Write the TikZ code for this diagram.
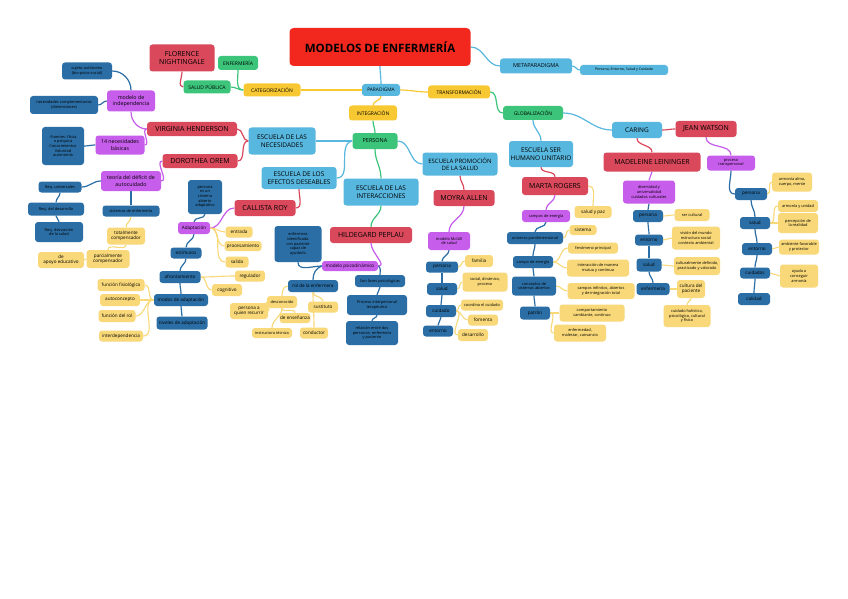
\documentclass[tikz,border=0pt]{standalone}
\usepackage{fontspec}
\setmainfont{Open Sans}
\definecolor{ttlred}{HTML}{F2281E}
\definecolor{thred}{HTML}{D9495B}
\definecolor{sky}{HTML}{58B7DF}
\definecolor{yel}{HTML}{F8C832}
\definecolor{lyel}{HTML}{F8D878}
\definecolor{grn}{HTML}{3CC57A}
\definecolor{purp}{HTML}{C65DEB}
\definecolor{dblue}{HTML}{2B6EA5}
\pgfdeclarelayer{bg}
\pgfsetlayers{bg,main}
\newcommand\nd[7]{\node[#6,minimum width=#4pt,minimum height=#5pt] (#1) at (#2,#3) {#7};}
\newcommand\ed[4]{\draw[#1] (#2) to[#4] (#3);}
\tikzset{
  base/.style={rounded corners=3pt, align=center, inner sep=0.5pt, text=black},
  fA/.style={font=\fontsize{11.5}{13}\selectfont\bfseries},
  fB/.style={font=\fontsize{7}{8.4}\selectfont},
  fC/.style={font=\fontsize{6.5}{7.8}\selectfont},
  fD/.style={font=\fontsize{5}{6}\selectfont},
  fE/.style={font=\fontsize{5.3}{6.2}\selectfont},
  fF/.style={font=\fontsize{4.6}{5.4}\selectfont},
  fG/.style={font=\fontsize{3.9}{4.6}\selectfont},
  ttl/.style={base,fill=ttlred,fA,rounded corners=4pt},
  th/.style={base,fill=thred,fB},
  sk/.style={base,fill=sky,fC},
  skd/.style={base,fill=sky,fD},
  yl/.style={base,fill=yel,fD},
  gr/.style={base,fill=grn,fD},
  pu/.style={base,fill=purp,fE},
  db/.style={base,fill=dblue,fF},
  ly/.style={base,fill=lyel,fF},
  cS/.style={draw=sky,line width=1.2pt},
  cY/.style={draw=yel,line width=1.2pt},
  cG/.style={draw=grn,line width=1.2pt},
  cR/.style={draw=thred,line width=1.2pt},
  cP/.style={draw=purp,line width=1.2pt},
  cB/.style={draw=dblue,line width=1.2pt},
  cL/.style={draw=lyel,line width=1.1pt},
  h/.style={out=0,in=180},
  hl/.style={out=180,in=0},
  v/.style={out=-90,in=90},
}
\begin{document}
\begin{tikzpicture}[x=1pt,y=-1pt]
\useasboundingbox (0,0) rectangle (848,599);
% ---- top
\nd{title}{380}{47}{181}{38}{ttl}{MODELOS DE ENFERMERÍA}
\nd{meta}{536}{66}{72}{15}{skd,font=\fontsize{5.5}{6.5}\selectfont}{METAPARADIGMA}
\nd{metaleaf}{624}{70}{88}{10}{base,fill=sky,font=\fontsize{3.6}{4.3}\selectfont}{Persona, Entorno, Salud y Cuidado}
\nd{para}{381}{90}{38}{12}{skd,font=\fontsize{4.8}{5.6}\selectfont}{PARADIGMA}
\nd{cat}{272}{90}{57}{13}{yl}{CATEGORIZACIÓN}
\nd{enf}{238}{63}{40}{14}{gr}{ENFERMERÍA}
\nd{sp}{207}{87}{47}{13}{gr}{SALUD PÚBLICA}
\nd{flor}{182}{58}{65}{27}{th}{FLORENCE\\NIGHTINGALE}
\nd{integ}{373}{113}{48}{15}{yl}{INTEGRACIÓN}
\nd{trans}{459}{92}{62}{13}{yl}{TRANSFORMACIÓN}
\nd{glob}{533}{113}{60}{14}{gr}{GLOBALIZACIÓN}
\nd{pers}{375}{141}{45}{16}{gr,font=\fontsize{5.5}{6.5}\selectfont}{PERSONA}
% ---- Henderson / Orem
\nd{escnec}{282}{141}{67}{27}{sk}{ESCUELA DE LAS\\NECESIDADES}
\nd{vh}{192}{129}{90}{14}{th}{VIRGINIA HENDERSON}
\nd{mind}{131}{101}{48}{21}{pu}{modelo de\\independencia}
\nd{suj}{87}{71}{50}{17}{db,fG}{sujeto autónomo\\(bio-psico-social)}
\nd{nec}{64}{105}{68}{18}{db,fG}{necesidades complementarias\\(dimensiones)}
\nd{n14}{120}{145}{49}{19}{pu}{14 necesidades\\básicas}
\nd{fue}{63}{146}{42}{38}{db,fG}{-Fuentes: física\\o psíquica\\Conocimientos\\Voluntad\\autonomía}
\nd{orem}{200}{161}{75}{14}{th}{DOROTHEA OREM}
\nd{teo}{131}{181}{60}{20}{pu}{teoría del déficit de\\autocuidado}
\nd{ac1}{60}{187}{43}{11}{db,fG}{Req. universales}
\nd{ac2}{56}{209}{56}{13}{db,fG}{Req. del desarrollo}
\nd{ac3}{59}{232}{48}{20}{db,fG}{Req. desviación\\de la salud}
\nd{sis}{131}{211}{57}{11}{db,fG}{sistemas de enfermería}
\nd{tot}{126}{236}{38}{17}{ly}{totalmente\\compensador}
\nd{par}{108}{259}{43}{18}{ly}{parcialmente\\compensador}
\nd{apo}{61}{260}{46}{16}{ly}{de\\apoyo educativo}
% ---- Roy
\nd{escef}{299}{178}{75}{22}{sk}{ESCUELA DE LOS\\EFECTOS DESEABLES}
\nd{roy}{265}{208}{61}{16}{th}{CALLISTA ROY}
\nd{adap}{194}{228}{32}{12}{pu,fF}{Adaptación}
\nd{psa}{205}{197}{34}{34}{db,fG}{persona\\es un\\sistema\\abierto\\adaptativo}
\nd{est}{186}{253}{31}{11}{db}{estímulos}
\nd{ent}{239}{232}{27}{11}{ly}{entrada}
\nd{proc}{243}{246}{37}{10}{ly}{procesamiento}
\nd{sal}{237}{262}{23}{11}{ly}{salida}
\nd{afr}{180}{277}{41}{12}{db}{afrontamiento}
\nd{reg}{250}{276}{30}{11}{ly}{regulador}
\nd{cog}{227}{290}{30}{12}{ly}{cognitivo}
\nd{modos}{181}{300}{54}{12}{db}{modos de adaptación}
\nd{ff}{121}{285}{47}{12}{ly}{función fisiológica}
\nd{auto}{120}{300}{40}{12}{ly}{autoconcepto}
\nd{rolf}{117}{316}{37}{12}{ly}{función del rol}
\nd{inter}{121}{336}{44}{11}{ly}{interdependencia}
\nd{niv}{182}{323}{51}{13}{db}{niveles de adaptación}
% ---- Peplau
\nd{escint}{381}{192}{75}{27}{sk}{ESCUELA DE LAS\\INTERACCIONES}
\nd{pep}{371}{235}{82}{16}{th}{HILDEGARD PEPLAU}
\nd{enfi}{298}{244}{47}{36}{db,fG}{enfermera\\identificada\\con paciente\\capaz de\\ayudarlo}
\nd{mpsi}{350}{266}{56}{10}{pu,fF}{modelo psicodinámico}
\nd{rolenf}{313}{286}{50}{12}{db}{rol de la enfermera}
\nd{fases}{380}{281}{50}{12}{db,fG}{Son fases psicológicas}
\nd{proc2}{377}{305}{60}{20}{db,fG}{Proceso interpersonal\\terapéutico}
\nd{rel}{372}{333}{52}{24}{db,fG}{relación entre dos\\personas: enfermera\\y paciente}
\nd{desc}{282}{302}{30}{12}{ly,fG}{desconocido}
\nd{pqr}{249}{311}{38}{16}{ly}{persona a\\quien recurrir}
\nd{deens}{295}{318}{30}{10}{ly}{de enseñanza}
\nd{inst}{272}{333}{40}{10}{ly,fG}{instructora técnica}
\nd{sust}{323}{307}{30}{11}{ly}{sustituto}
\nd{cond}{314}{333}{28}{11}{ly}{conductor}
% ---- Allen
\nd{escpro}{460}{164}{75}{23}{sk,font=\fontsize{6}{7.2}\selectfont}{ESCUELA PROMOCIÓN\\DE LA SALUD}
\nd{moy}{464}{198}{61}{16}{th}{MOYRA ALLEN}
\nd{mcg}{449}{241}{42}{18}{pu,fG}{modelo McGill\\de salud}
\nd{mper}{442}{267}{32}{11}{db}{persona}
\nd{mfam}{479}{261}{28}{12}{ly}{familia}
\nd{msal}{442}{289}{30}{12}{db}{salud}
\nd{msy}{485}{282}{45}{19}{ly,fG}{social, dinámico,\\proceso}
\nd{mcui}{441}{311}{30}{12}{db}{cuidado}
\nd{mcoo}{482}{305}{42}{11}{ly,fG}{coordina el cuidado}
\nd{mfom}{483}{320}{30}{11}{ly}{fomenta}
\nd{ment}{438}{331}{30}{11}{db}{entorno}
\nd{mdes}{473}{335}{30}{12}{ly}{desarrollo}
% ---- Rogers
\nd{escser}{541}{154}{64}{26}{sk}{ESCUELA SER\\HUMANO UNITARIO}
\nd{rog}{555}{186}{66}{18}{th}{MARTA ROGERS}
\nd{rce}{546}{216}{48}{12}{pu,fG}{campos de energía}
\nd{rsp}{593}{212}{37}{12}{ly}{salud y paz}
\nd{runi}{535}{238}{56}{12}{db,fG}{universo pandimensional}
\nd{rsis}{583}{230}{27}{10}{ly}{sistema}
\nd{rcam}{533}{262}{40}{12}{db,fG}{campo de energía}
\nd{rfen}{593}{248}{50}{11}{ly,fG}{fenómeno principal}
\nd{rint}{598}{268}{62}{17}{ly,fG}{interacción de manera\\mutua y continua}
\nd{rcon}{534}{286}{44}{19}{db,fG}{conceptos de\\sistemas abiertos}
\nd{rinf}{601}{291}{67}{16}{ly,fG}{campos infinitos, abiertos\\y de integración total}
\nd{rpat}{535}{313}{30}{13}{db}{patrón}
\nd{rcomp}{592}{313}{65}{17}{ly,fG}{comportamiento\\cambiante, continuo}
\nd{renf}{580}{333}{52}{17}{ly,fG}{enfermedad,\\malestar, cansancio}
% ---- Leininger
\nd{caring}{637}{130}{50}{16}{sk}{CARING}
\nd{jw}{706}{129}{61}{16}{th}{JEAN WATSON}
\nd{lei}{652}{162}{97}{19}{th}{MADELEINE LEININGER}
\nd{ldiv}{649}{192}{52}{23}{pu,fG}{diversidad y\\universalidad\\cuidados culturales}
\nd{lper}{648}{216}{30}{12}{db}{persona}
\nd{lsc}{692}{215}{35}{12}{ly,fG}{ser cultural}
\nd{lent}{649}{240}{28}{11}{db}{entorno}
\nd{lvis}{696}{238}{48}{23}{ly,fG}{visión del mundo\\estructura social\\contexto ambiental}
\nd{lsal}{649}{265}{25}{13}{db}{salud}
\nd{lcul}{697}{266}{46}{18}{ly,fG}{culturalmente definido,\\practicado y valorado}
\nd{lenf}{653}{289}{33}{12}{db}{enfermería}
\nd{lcp}{691}{289}{28}{18}{ly}{cultura del\\paciente}
\nd{lhol}{687}{316}{47}{22}{ly,fG}{cuidado holístico,\\psicológico, cultural\\y físico}
% ---- Watson
\nd{wpro}{731}{163}{48}{15}{pu,fG}{proceso\\transpersonal}
\nd{wper}{751}{194}{32}{12}{db}{persona}
\nd{warm}{792}{182}{40}{19}{ly,fG}{armonía alma,\\cuerpo, mente}
\nd{wsal}{755}{223}{30}{12}{db}{salud}
\nd{wuni}{798}{206}{40}{12}{ly,fG}{armonía y unidad}
\nd{wpercep}{798}{223}{40}{20}{ly,fG}{percepción de\\la realidad}
\nd{went}{757}{249}{30}{12}{db}{entorno}
\nd{wamb}{799}{247}{40}{15}{ly,fG}{ambiente favorable\\y protector}
\nd{wcui}{755}{273}{30}{11}{db}{cuidados}
\nd{wayu}{799}{276}{38}{23}{ly,fG}{ayuda a\\conseguir\\armonía}
\nd{wcal}{754}{299}{32}{12}{db}{calidad}
% ================= connectors
\begin{pgfonlayer}{bg}
\fill[white] (0,0) rectangle (848,599);
\ed{cS}{title.south}{para.north}{v}
\ed{cS}{title.east}{meta.west}{h}
\ed{cS}{meta.east}{metaleaf.west}{h}
\ed{cY}{para.west}{cat.east}{hl}
\ed{cY}{para.south}{integ.north}{v}
\ed{cY}{para.east}{trans.west}{h}
\ed{cG}{cat.west}{enf.south}{out=180,in=-90}
\ed{cG}{cat.west}{sp.east}{hl}
\ed{cR}{flor.south}{sp.west}{out=-90,in=180}
\ed{cG}{integ.south}{pers.north}{v}
\ed{cG}{trans.east}{glob.west}{h}
\ed{cS}{glob.south}{escser.north}{v}
\ed{cS}{glob.east}{caring.west}{h}
\ed{cR}{caring.east}{jw.west}{h}
\ed{cR}{caring.south}{lei.north}{v}
\ed{cS}{pers.west}{escnec.east}{hl}
\ed{cS}{pers.west}{escef.east}{out=190,in=0}
\ed{cG}{pers.south}{escint.north}{v}
\ed{cS}{pers.east}{escpro.west}{out=0,in=180}
% Henderson / Orem
\ed{cR}{escnec.west}{vh.east}{hl}
\ed{cR}{escnec.west}{orem.east}{hl}
\ed{cP}{vh.west}{mind.south}{out=180,in=-90}
\ed{cP}{vh.west}{n14.east}{hl}
\ed{cB}{mind.north}{suj.east}{out=90,in=0}
\ed{cB}{mind.west}{nec.east}{hl}
\ed{cB}{n14.west}{fue.east}{hl}
\ed{cP}{orem.west}{teo.east}{hl}
\ed{cB}{teo.west}{ac1.east}{hl}
\ed{cB}{ac1.south}{ac2.north}{v}
\ed{cB}{ac2.south}{ac3.north}{v}
\ed{cB}{teo.south}{sis.north}{v}
\ed{cL}{sis.south}{tot.north}{v}
\ed{cL}{tot.south}{par.north}{v}
\ed{cL}{par.west}{apo.east}{hl}
% Roy
\ed{cR}{escef.south}{roy.east}{out=-90,in=0}
\ed{cP}{roy.west}{adap.east}{hl}
\ed{cB}{adap.north}{psa.south}{out=90,in=-90}
\ed{cL}{adap.east}{ent.west}{h}
\ed{cL}{adap.east}{proc.west}{h}
\ed{cL}{adap.east}{sal.west}{h}
\ed{cB}{adap.south}{est.north}{v}
\ed{cB}{est.south}{afr.north}{v}
\ed{cB}{afr.south}{modos.north}{v}
\ed{cB}{modos.south}{niv.north}{v}
\ed{cL}{afr.east}{reg.west}{h}
\ed{cL}{afr.east}{cog.west}{h}
\ed{cL}{modos.west}{ff.east}{hl}
\ed{cL}{modos.west}{auto.east}{hl}
\ed{cL}{modos.west}{rolf.east}{hl}
\ed{cL}{modos.west}{inter.east}{hl}
% Peplau
\ed{cG}{escint.south}{pep.north}{v}
\ed{cP}{pep.south}{mpsi.east}{out=-90,in=0}
\ed{cB}{enfi.south}{mpsi.west}{out=-90,in=180}
\ed{cB}{mpsi.west}{rolenf.north}{out=200,in=90}
\ed{cB}{mpsi.east}{fases.north}{out=-30,in=90}
\ed{cB}{fases.south}{proc2.north}{v}
\ed{cB}{proc2.south}{rel.north}{v}
\ed{cL}{rolenf.west}{desc.north}{out=180,in=90}
\ed{cL}{desc.west}{pqr.east}{hl}
\ed{cL}{desc.south}{inst.north}{v}
\ed{cL}{desc.south}{deens.north}{v}
\ed{cL}{rolenf.south}{sust.north}{v}
\ed{cL}{rolenf.south}{cond.north}{v}
% Allen
\ed{cR}{escpro.south}{moy.north}{v}
\ed{cP}{moy.south}{mcg.north}{v}
\ed{cB}{mcg.south}{mper.north}{v}
\ed{cB}{mper.south}{msal.north}{v}
\ed{cB}{msal.south}{mcui.north}{v}
\ed{cB}{mcui.south}{ment.north}{v}
\ed{cL}{mper.east}{mfam.west}{h}
\ed{cL}{msal.east}{msy.west}{h}
\ed{cL}{mcui.east}{mcoo.west}{h}
\ed{cL}{mcui.east}{mfom.west}{h}
\ed{cL}{mcui.east}{mdes.west}{h}
% Rogers
\ed{cR}{escser.south}{rog.north}{v}
\ed{cP}{rog.south}{rce.north}{v}
\ed{cL}{rog.east}{rsp.north}{out=0,in=90}
\ed{cB}{rce.south}{runi.north}{v}
\ed{cB}{runi.south}{rcam.north}{v}
\ed{cB}{rcam.south}{rcon.north}{v}
\ed{cB}{rcon.south}{rpat.north}{v}
\ed{cL}{runi.east}{rsis.west}{h}
\ed{cL}{rcam.east}{rfen.west}{h}
\ed{cL}{rcam.east}{rint.west}{h}
\ed{cL}{rcon.east}{rinf.west}{h}
\ed{cL}{rpat.east}{rcomp.west}{h}
\ed{cL}{rpat.east}{renf.west}{h}
% Leininger
\ed{cP}{lei.south}{ldiv.north}{v}
\ed{cB}{ldiv.south}{lper.north}{v}
\ed{cB}{lper.south}{lent.north}{v}
\ed{cB}{lent.south}{lsal.north}{v}
\ed{cB}{lsal.south}{lenf.north}{v}
\ed{cL}{lper.east}{lsc.west}{h}
\ed{cL}{lent.east}{lvis.west}{h}
\ed{cL}{lsal.east}{lcul.west}{h}
\ed{cL}{lenf.east}{lcp.west}{h}
\ed{cL}{lcp.south}{lhol.north}{v}
% Watson
\ed{cP}{jw.south}{wpro.north}{v}
\ed{cB}{wpro.south}{wper.west}{out=-90,in=180}
\ed{cB}{wper.south}{wsal.north}{v}
\ed{cB}{wsal.south}{went.north}{v}
\ed{cB}{went.south}{wcui.north}{v}
\ed{cB}{wcui.south}{wcal.north}{v}
\ed{cL}{wper.east}{warm.west}{h}
\ed{cL}{wsal.east}{wuni.west}{h}
\ed{cL}{wsal.east}{wpercep.west}{h}
\ed{cL}{went.east}{wamb.west}{h}
\ed{cL}{wcui.east}{wayu.west}{h}
\end{pgfonlayer}
\end{tikzpicture}
\end{document}
